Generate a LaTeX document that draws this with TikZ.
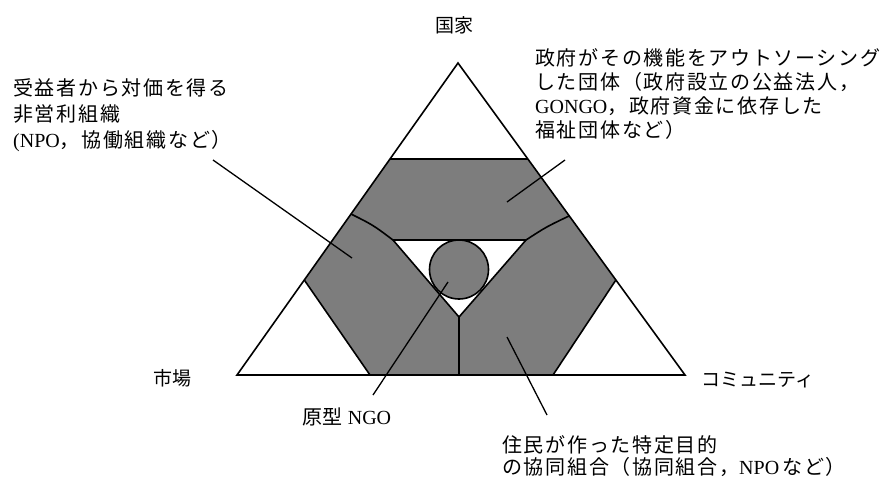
\documentclass[tikz,border=0pt]{standalone}
\usepackage{fontspec}
\setmainfont{Liberation Serif}
\newfontfamily\jp{Noto Sans CJK JP}
\newfontfamily\jpw{Noto Sans CJK JP}[LetterSpace=8.5]
\usetikzlibrary{calc}
\definecolor{band}{gray}{0.49}
\tikzset{
  edge/.style={line width=1.6pt, line join=miter},
  leader/.style={line width=1.3pt},
  lbl/.style={inner sep=0pt, font=\fontsize{20}{25}\selectfont},
  blk/.style={lbl, align=left, anchor=north west},
}
\begin{document}
\begin{tikzpicture}[x=1pt,y=-1pt]
\useasboundingbox (0,0) rectangle (888,482);
% outer triangle
\coordinate (A) at (458,63);
\coordinate (L) at (237,375);
\coordinate (R) at (685,375);
\coordinate (T1) at ($(A)!0.3077!(L)$);
\coordinate (T2) at ($(A)!0.3077!(R)$);
\coordinate (P1) at ($(A)!0.484!(L)$);
\coordinate (P2) at ($(A)!0.490!(R)$);
\coordinate (Q1) at ($(A)!0.6955!(L)$);
\coordinate (Q3) at ($(A)!0.6955!(R)$);
\coordinate (Q2) at (370,375);
\coordinate (Q4) at (553,375);
\coordinate (I1) at (393,240);
\coordinate (I2) at (526,240);
\coordinate (I3) at (459,317);
\coordinate (B) at (459,375);
% fills
\fill[band] (T1) -- (T2) -- (Q3) -- (Q4) -- (Q2) -- (Q1) -- cycle;
\fill[white] (I1) -- (I2) -- (I3) -- cycle;
\node[circle, draw, line width=1.6pt, fill=band, minimum size=59pt, inner sep=0pt] (C) at (459,269.5) {};
% lines
\draw[edge] (A) -- (L) -- (R) -- cycle;
\draw[edge] (T1) -- (T2);
\draw[edge] (P1) .. controls (373,225) .. (I1);
\draw[edge] (P2) .. controls (546,227) .. (I2);
\draw[edge] (I1) -- (I2) -- (I3) -- cycle;
\draw[edge] (I3) -- (B);
\draw[edge] (Q1) -- (Q2);
\draw[edge] (Q3) -- (Q4);
% labels
\node[lbl, font=\fontsize{19}{22}\selectfont\jp] (kokka) at (454,25) {国家};
\node[lbl, font=\fontsize{19}{22}\selectfont\jp] (shijo) at (172,378) {市場};
\node[lbl, font=\fontsize{19}{22}\selectfont\jp, anchor=west] (comm) at (701,380) {コミュニティ};
\node[lbl, font=\fontsize{20}{22}\selectfont] (ngo) at (347,417) {{\jp 原型} NGO};
\node[blk, font=\fontsize{20}{26}\selectfont] (npo) at (13,78) {{\jpw 受益者から対価を得る}\\{\jpw 非営利組織}\\({NPO}{\jpw ，協働組織など）}};
\node[blk, font=\fontsize{20}{24}\selectfont] (gov) at (535,48) {{\jpw 政府がその機能をアウトソーシング}\\{\jpw した団体（政府設立の公益法人，}\\GONGO{\jpw ，政府資金に依存した}\\{\jpw 福祉団体など）}};
\node[blk, font=\fontsize{20}{22.5}\selectfont] (coop) at (502,435) {{\jpw 住民が作った特定目的}\\{\jpw の協同組合（協同組合，}NPO{\jpw \,など）}};
% leaders
\coordinate (g1) at (565,160);
\coordinate (g2) at (507,202);
\coordinate (n1) at (213,160);
\coordinate (n2) at (352,258);
\coordinate (o1) at (448,282);
\coordinate (o2) at (373,395);
\coordinate (c1) at (507,337);
\coordinate (c2) at (547,415);
\draw[leader] (g1) -- (g2);
\draw[leader] (n1) -- (n2);
\draw[leader] (o1) -- (o2);
\draw[leader] (c1) -- (c2);
\end{tikzpicture}
\end{document}
